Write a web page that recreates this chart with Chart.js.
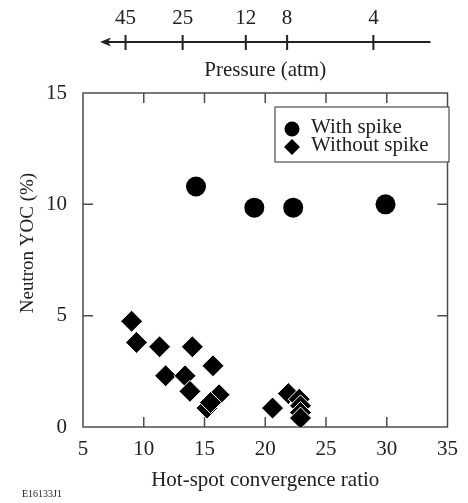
<!DOCTYPE html>
<html>
<head>
<meta charset="utf-8">
<script src="https://cdn.jsdelivr.net/npm/chart.js@4/dist/chart.umd.min.js"></script>
<style>
  html, body { margin: 0; padding: 0; background: #fff; }
  canvas { display: block; }
</style>
</head>
<body>
<canvas id="chart" width="468" height="503"></canvas>
<script>
// Hot-spot convergence ratio vs. neutron YOC
const withSpikeRatio = [14.3, 19.1, 22.3, 29.9];
const withSpikeYoc = [10.8, 9.85, 9.85, 10.0];

const withoutSpikeRatio = [9.0, 9.4, 11.3, 14.0, 15.7, 11.8, 13.4, 13.8, 16.2, 15.2, 15.5, 20.6, 21.9, 22.8, 22.9, 22.9, 22.9];
const withoutSpikeYoc = [4.75, 3.8, 3.6, 3.6, 2.75, 2.3, 2.3, 1.6, 1.45, 0.85, 1.1, 0.85, 1.5, 1.25, 0.95, 0.65, 0.4];

// pressure scale shown above the plot, placed on the convergence-ratio axis
const pressureLabels = ['45', '25', '12', '8', '4'];
const pressureRatio = [8.5, 13.2, 18.4, 21.8, 28.9];
const pressureRange = [6.4, 33.6];

const legendLabels = ['With spike', 'Without spike'];
const yTitle = 'Neutron YOC (%)';
const figureTag = 'E16133J1';

const serif = "'Liberation Serif', 'DejaVu Serif', serif";
const ink = '#222';
const frameColor = '#4d4d4d';

Chart.defaults.font.family = serif;
Chart.defaults.color = ink;

function toPoints(xs, ys) {
    return xs.map((x, i) => ({ x: x, y: ys[i] }));
}

const framePlugin = {
    id: 'frame',
    beforeDatasetsDraw(chart) {
        const { ctx, chartArea: a, scales } = chart;
        ctx.save();
        ctx.strokeStyle = frameColor;
        ctx.lineWidth = 1.5;
        ctx.strokeRect(a.left, a.top, a.right - a.left, a.bottom - a.top);

        const len = 10;
        ctx.beginPath();
        scales.x.ticks.forEach(t => {
            if (t.value <= scales.x.min || t.value >= scales.x.max) return;
            const px = scales.x.getPixelForValue(t.value);
            ctx.moveTo(px, a.bottom);
            ctx.lineTo(px, a.bottom - len);
            ctx.moveTo(px, a.top);
            ctx.lineTo(px, a.top + len);
        });
        scales.y.ticks.forEach(t => {
            if (t.value <= scales.y.min || t.value >= scales.y.max) return;
            const py = scales.y.getPixelForValue(t.value);
            ctx.moveTo(a.left, py);
            ctx.lineTo(a.left + len, py);
            ctx.moveTo(a.right, py);
            ctx.lineTo(a.right - len, py);
        });
        ctx.stroke();
        ctx.restore();
    }
};

const pressurePlugin = {
    id: 'pressureAxis',
    afterDraw(chart) {
        const { ctx } = chart;
        const x = chart.scales.x;
        const y0 = 42;
        const left = x.getPixelForValue(pressureRange[0]);
        const right = x.getPixelForValue(pressureRange[1]);

        ctx.save();
        ctx.strokeStyle = ink;
        ctx.fillStyle = ink;
        ctx.lineWidth = 2;
        ctx.beginPath();
        ctx.moveTo(left + 4, y0);
        ctx.lineTo(right, y0);
        pressureRatio.forEach(v => {
            const px = x.getPixelForValue(v);
            ctx.moveTo(px, y0 - 7);
            ctx.lineTo(px, y0 + 8);
        });
        ctx.stroke();

        // arrow head pointing to higher pressure
        ctx.beginPath();
        ctx.moveTo(left, y0);
        ctx.lineTo(left + 11, y0 - 4.5);
        ctx.lineTo(left + 8, y0);
        ctx.lineTo(left + 11, y0 + 4.5);
        ctx.closePath();
        ctx.fill();

        ctx.font = '21px ' + serif;
        ctx.textAlign = 'center';
        ctx.textBaseline = 'middle';
        pressureLabels.forEach((lbl, i) => {
            ctx.fillText(lbl, x.getPixelForValue(pressureRatio[i]), 18);
        });
        ctx.fillText('Pressure (atm)', (left + right) / 2, 70);
        ctx.restore();
    }
};

const yTitlePlugin = {
    id: 'yTitle',
    afterDraw(chart) {
        const { ctx, chartArea: a } = chart;
        ctx.save();
        ctx.translate(28, (a.top + a.bottom) / 2 - 17);
        ctx.rotate(-Math.PI / 2);
        ctx.fillStyle = ink;
        ctx.font = '19px ' + serif;
        ctx.textAlign = 'center';
        ctx.textBaseline = 'middle';
        ctx.fillText(yTitle, 0, 0);
        ctx.restore();
    }
};

const legendPlugin = {
    id: 'boxLegend',
    afterDraw(chart) {
        const { ctx } = chart;
        const box = { left: 275, top: 107, right: 449, bottom: 162 };
        ctx.save();
        ctx.fillStyle = '#fff';
        ctx.fillRect(box.left, box.top, box.right - box.left, box.bottom - box.top);
        ctx.strokeStyle = frameColor;
        ctx.lineWidth = 1.2;
        ctx.strokeRect(box.left, box.top, box.right - box.left, box.bottom - box.top);

        const styles = [
            { pointStyle: 'circle', radius: 7.5, borderWidth: 0 },
            { pointStyle: 'rectRot', radius: 8, borderWidth: 0 }
        ];
        ctx.fillStyle = '#000';
        ctx.strokeStyle = '#000';
        styles.forEach((s, i) => {
            Chart.helpers.drawPoint(ctx, s, 292, 129 + i * 18);
        });

        ctx.fillStyle = ink;
        ctx.font = '21px ' + serif;
        ctx.textAlign = 'left';
        ctx.textBaseline = 'middle';
        legendLabels.forEach((lbl, i) => {
            ctx.fillText(lbl, 311, 127 + i * 18);
        });
        ctx.restore();
    }
};

const tagPlugin = {
    id: 'figureTag',
    afterDraw(chart) {
        const { ctx } = chart;
        ctx.save();
        ctx.fillStyle = ink;
        ctx.font = '10px ' + serif;
        ctx.textAlign = 'left';
        ctx.textBaseline = 'middle';
        ctx.fillText(figureTag, 22, 494);
        ctx.restore();
    }
};

new Chart(document.getElementById('chart'), {
    type: 'scatter',
    data: {
        datasets: [
            {
                label: legendLabels[0],
                data: toPoints(withSpikeRatio, withSpikeYoc),
                pointStyle: 'circle',
                pointRadius: 10,
                pointHoverRadius: 10,
                backgroundColor: '#000',
                borderColor: '#000',
                borderWidth: 0
            },
            {
                label: legendLabels[1],
                data: toPoints(withoutSpikeRatio, withoutSpikeYoc),
                pointStyle: 'rectRot',
                pointRadius: 11,
                pointHoverRadius: 11,
                backgroundColor: '#000',
                borderColor: '#fff',
                borderWidth: 1
            }
        ]
    },
    options: {
        responsive: false,
        animation: false,
        layout: { padding: { top: 93, right: 12, left: 0, bottom: 0 } },
        plugins: {
            legend: { display: false },
            tooltip: { enabled: false }
        },
        scales: {
            x: {
                type: 'linear',
                min: 5,
                max: 35,
                afterFit: s => { s.height = 76; },
                grid: { display: false, drawTicks: false },
                border: { display: false },
                ticks: { stepSize: 5, padding: 10, font: { size: 21 }, color: ink },
                title: {
                    display: true,
                    text: 'Hot-spot convergence ratio',
                    font: { size: 21 },
                    color: ink,
                    padding: { top: 0, bottom: 10 }
                }
            },
            y: {
                min: 0,
                max: 15,
                afterFit: s => { s.width = 83; },
                grid: { display: false, drawTicks: false },
                border: { display: false },
                ticks: { stepSize: 5, padding: 16, font: { size: 21 }, color: ink },
                title: { display: false }
            }
        }
    },
    plugins: [framePlugin, pressurePlugin, yTitlePlugin, legendPlugin, tagPlugin]
});
</script>
</body>
</html>
